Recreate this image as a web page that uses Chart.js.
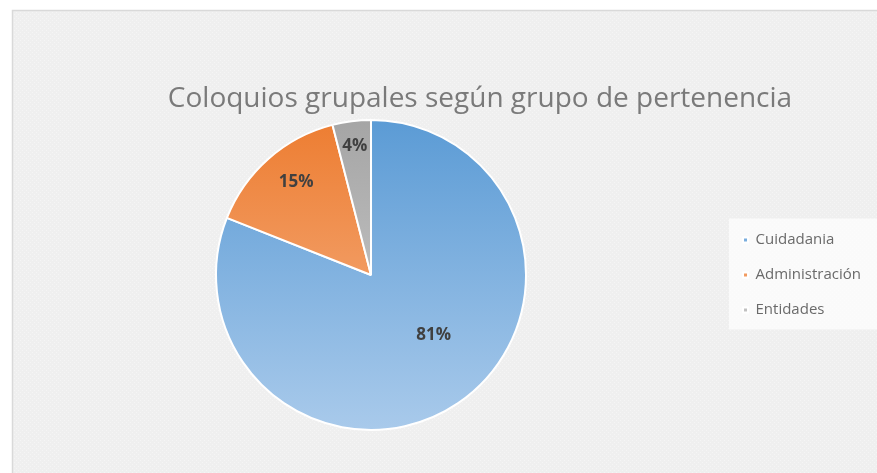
<!DOCTYPE html>
<html>
<head>
<meta charset="utf-8">
<script src="https://cdn.jsdelivr.net/npm/chart.js@4.4.1/dist/chart.umd.min.js"></script>
<style>
  html, body { margin: 0; padding: 0; background: #fff; }
  #wrap { width: 877px; height: 473px; }
</style>
</head>
<body>
<div id="wrap"><canvas id="grafico" width="877" height="473"></canvas></div>
<script>
const titulo = "Coloquios grupales según grupo de pertenencia";
const categorias = ["Cuidadania", "Administración", "Entidades"];
const porcentajes = [81, 15, 4];
const coloresArriba = ["#5b9bd5", "#ed7d31", "#a5a5a5"];
const coloresAbajo = ["#a9caeb", "#f6b78f", "#d2d2d2"];

const grafico = document.getElementById("grafico").getContext("2d");

// textura suave del fondo
function crearPatron(ctx) {
  const t = document.createElement("canvas");
  t.width = 4; t.height = 4;
  const c = t.getContext("2d");
  c.fillStyle = "#efefef";
  c.fillRect(0, 0, 4, 4);
  c.fillStyle = "#f5f5f5";
  c.fillRect(0, 0, 1, 1);
  c.fillRect(2, 2, 1, 1);
  return ctx.createPattern(t, "repeat");
}

function degradado(context, i) {
  const chart = context.chart;
  const area = chart.chartArea;
  if (!area) return coloresArriba[i];
  const g = chart.ctx.createLinearGradient(0, area.top, 0, area.bottom);
  g.addColorStop(0, coloresArriba[i]);
  g.addColorStop(1, coloresAbajo[i]);
  return g;
}

const fondo = {
  id: "fondo",
  beforeDraw(chart) {
    const c = chart.ctx;
    c.save();
    c.fillStyle = "#ffffff";
    c.fillRect(0, 0, chart.width, chart.height);
    c.fillStyle = crearPatron(c);
    c.fillRect(12, 10, chart.width, chart.height);
    c.strokeStyle = "#d9d9d9";
    c.lineWidth = 1.5;
    c.strokeRect(12.5, 10.5, chart.width + 10, chart.height + 10);

    // caja blanca de la leyenda
    const hb = chart.legend.legendHitBoxes;
    if (hb && hb.length) {
      const top = hb[0].top - 14;
      const bottom = hb[hb.length - 1].top + hb[hb.length - 1].height + 12;
      c.fillStyle = "rgba(255,255,255,0.7)";
      c.fillRect(hb[0].left - 14, top, chart.width, bottom - top);
    }

    c.fillStyle = "#7a7a7a";
    c.font = "28px 'Open Sans'";
    c.textAlign = "center";
    c.textBaseline = "middle";
    c.fillText(titulo, 480, 99);
    c.restore();
  }
};

// ajustes de posicion de etiquetas por porcion (radio relativo, giro en grados)
const etiquetaRadio = [0.56, 0.77, 0.84];
const etiquetaGiro = [-12, 2.5, 0];

const etiquetas = {
  id: "etiquetas",
  afterDatasetsDraw(chart) {
    const c = chart.ctx;
    const meta = chart.getDatasetMeta(0);
    c.save();
    c.fillStyle = "#404040";
    c.font = "bold 17px 'Open Sans'";
    c.textAlign = "center";
    c.textBaseline = "middle";
    meta.data.forEach((arc, i) => {
      const ang = (arc.startAngle + arc.endAngle) / 2 + etiquetaGiro[i] * Math.PI / 180;
      const r = arc.outerRadius * etiquetaRadio[i];
      c.fillText(porcentajes[i] + "%", arc.x + Math.cos(ang) * r, arc.y + Math.sin(ang) * r);
    });
    c.restore();
  }
};

let chartGrafico = new Chart(grafico, {
  type: "pie",
  data: {
    labels: categorias,
    datasets: [
      {
        data: porcentajes,
        backgroundColor: (ctx) => degradado(ctx, ctx.dataIndex),
        borderColor: "#ffffff",
        borderWidth: 2,
      },
    ],
  },
  options: {
    responsive: false,
    animation: false,
    layout: {
      padding: { top: 119, bottom: 42, left: 19, right: 6 },
    },
    plugins: {
      legend: {
        position: "right",
        labels: {
          color: "#6a6a6a",
          font: { family: "'Open Sans'", size: 15 },
          boxWidth: 5,
          boxHeight: 5,
          padding: 20,
        },
      },
      tooltip: { enabled: false },
    },
  },
  plugins: [fondo, etiquetas],
});
</script>
</body>
</html>
